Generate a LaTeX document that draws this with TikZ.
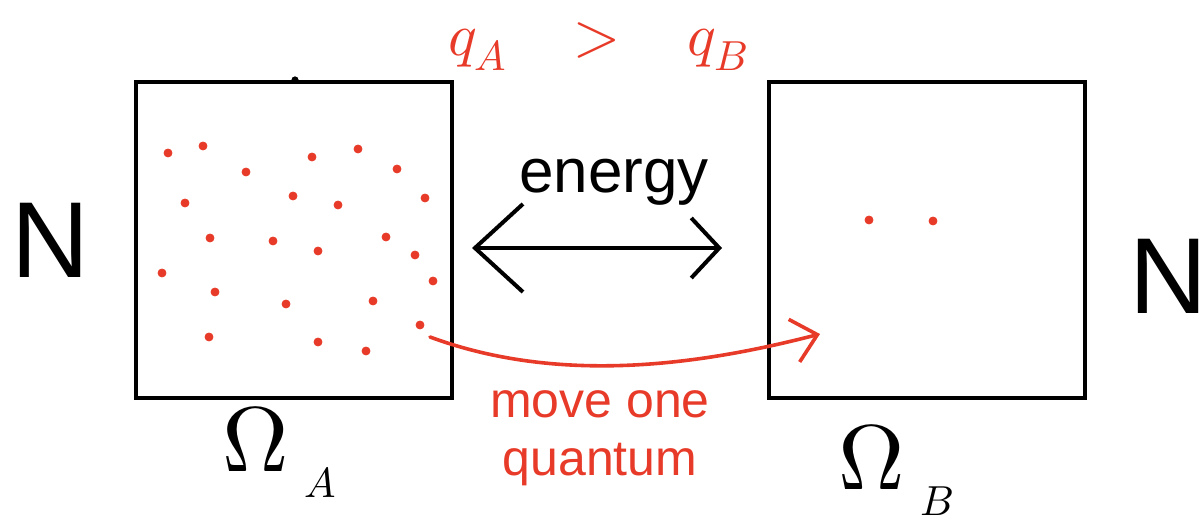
\documentclass[tikz,border=0pt]{standalone}
\usepackage{fontspec}
\usepackage{unicode-math}
\setmathfont{Latin Modern Math}
\setsansfont{Liberation Sans}
\usepackage{tikz}
\usetikzlibrary{arrows.meta, calc}

\definecolor{inkred}{RGB}{232,58,40}
\newcommand{\bigsub}[2]{{\fontsize{46}{50}\selectfont$#1$}\hspace{8pt}\raisebox{-13pt}{\fontsize{21}{24}\selectfont$#2$}}

\begin{document}
\begin{tikzpicture}[
  x=0.5pt, y=-0.5pt,
  chamber/.style={rectangle, draw, line width=2pt, minimum width=158pt,
                  minimum height=158pt, inner sep=0pt},
  quantum/.style={circle, fill=inkred, draw=inkred, minimum size=4pt, inner sep=0pt},
  hand/.style={font=\sffamily\fontsize{31}{34}\selectfont},
  big/.style={font=\fontsize{30}{34}\selectfont},
  barrow/.style={{Straight Barb[length=24pt,width=44pt]}-{Straight Barb[length=14pt,width=30pt]},
                 line width=2pt, line cap=round},
  rarrow/.style={-{Straight Barb[length=12pt,width=22pt]}, inkred, line width=1.8pt,
                 line cap=round}
]
\useasboundingbox (0,0) rectangle (1204,522);

%% ---- CHAMBERS ----
\node[chamber] at (294,240) (boxA) {};
\node[chamber] at (927,240) (boxB) {};
\fill (295,80) circle (1.8pt);

%% ---- QUANTA (box A) ----
\foreach \x/\y [count=\i] in {168/153, 203/146, 246/172, 312/157, 358/149, 397/169,
    185/203, 293/196, 338/205, 425/198, 210/238, 273/241, 318/251, 386/237,
    415/255, 162/273, 215/292, 286/304, 373/301, 433/281, 420/325, 209/337,
    318/342, 366/351}
  \node[quantum] (qa\i) at (\x,\y) {};

%% ---- QUANTA (box B) ----
\node[quantum] (qb1) at (869,220) {};
\node[quantum] (qb2) at (933,221) {};

%% ---- Energy exchange ----
\coordinate (eL) at (472,248);
\coordinate (eR) at (722,248);
\draw[barrow] (eL) -- (eR);
\node[hand] at (614,182) (energy) {energy};

%% ---- Moving one quantum ----
\coordinate (land) at (820,334);
\draw[rarrow] (qa21) ++(10,12) .. controls (560,385) and (700,365) .. (land);
\node[hand, text=inkred, align=center, font=\sffamily\fontsize{25}{29}\selectfont]
  at (600,438) (move) {move one\\quantum};

%% ---- Labels ----
\node[big, text=inkred] at (598,46) (cmp) {$q_A \;\;\;>\;\;\; q_B$};
\node[anchor=base west, inner sep=0pt] at (222,472) (omA) {\bigsub{\Omega}{A}};
\node[anchor=base west, inner sep=0pt] at (838,490) (omB) {\bigsub{\Omega}{B}};
\node[font=\sffamily\fontsize{54}{58}\selectfont] at (50,240) (nA) {N};
\node[font=\sffamily\fontsize{54}{58}\selectfont] at (1168,276) (nB) {N};
\end{tikzpicture}
\end{document}
